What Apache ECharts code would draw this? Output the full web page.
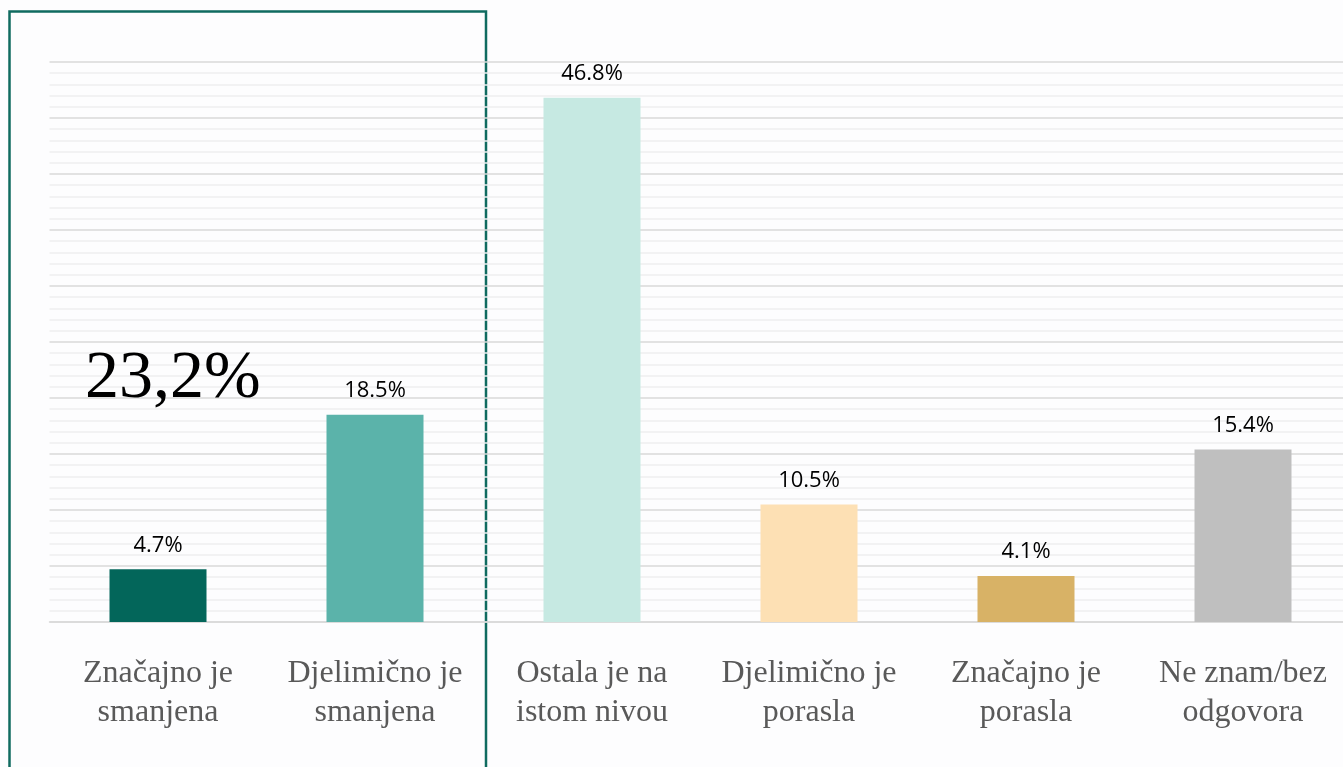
<!DOCTYPE html>
<html>
<head>
<meta charset="utf-8">
<script src="https://cdn.jsdelivr.net/npm/echarts@6/dist/echarts.min.js"></script>
<style>
html,body{margin:0;padding:0;background:#fdfdfe;overflow:hidden;width:1343px;height:767px;}
#chart{width:1352px;height:767px;}
</style>
</head>
<body>
<div id="chart"></div>
<script>
var categories = ['Značajno je\nsmanjena', 'Djelimično je\nsmanjena', 'Ostala je na\nistom nivou', 'Djelimično je\nporasla', 'Značajno je\nporasla', 'Ne znam/bez\nodgovora'];
var values = [4.7, 18.5, 46.8, 10.5, 4.1, 15.4];
var barColors = ['#03665a', '#5bb3aa', '#c6e9e2', '#fde0b4', '#d8b266', '#bfbfbf'];
var highlightText = '23,2%';

var chart = echarts.init(document.getElementById('chart'), null, {renderer: 'canvas'});
chart.setOption({
  backgroundColor: '#fdfdfe',
  animation: false,
  grid: {left: 49.5, width: 1302, top: 62, height: 560, containLabel: false},
  xAxis: {
    type: 'category',
    data: categories,
    axisLine: {show: true, lineStyle: {color: '#d9d9d9', width: 1.5}},
    axisTick: {show: false},
    axisLabel: {
      margin: 32,
      fontFamily: 'Liberation Serif',
      fontSize: 32,
      lineHeight: 39,
      color: '#595959',
      interval: 0
    }
  },
  yAxis: {
    type: 'value',
    min: 0,
    max: 50,
    interval: 5,
    axisLabel: {show: false},
    axisLine: {show: false},
    axisTick: {show: false},
    minorTick: {show: false, splitNumber: 5},
    splitLine: {show: true, lineStyle: {color: '#d9d9d9', width: 1.5}},
    minorSplitLine: {show: true, lineStyle: {color: '#eeeef0', width: 1.5}}
  },
  graphic: [
    {
      type: 'rect',
      z: -10,
      shape: {x: 9.5, y: 11.5, width: 476.5, height: 800},
      style: {fill: null, stroke: '#106b60', lineWidth: 2.5}
    },
    {
      type: 'text',
      z: 100,
      left: 85,
      top: 345,
      style: {text: highlightText, fontFamily: 'Liberation Serif', fontSize: 68, fill: '#000000'}
    }
  ],
  series: [{
    type: 'bar',
    data: values.map(function (v, i) { return {value: v, itemStyle: {color: barColors[i]}}; }),
    barWidth: 97,
    label: {
      show: true,
      position: 'top',
      distance: 13,
      formatter: function (p) { return p.value.toFixed(1) + '%'; },
      fontFamily: 'Open Sans',
      fontSize: 22,
      color: '#000000'
    }
  }]
});
</script>
</body>
</html>
